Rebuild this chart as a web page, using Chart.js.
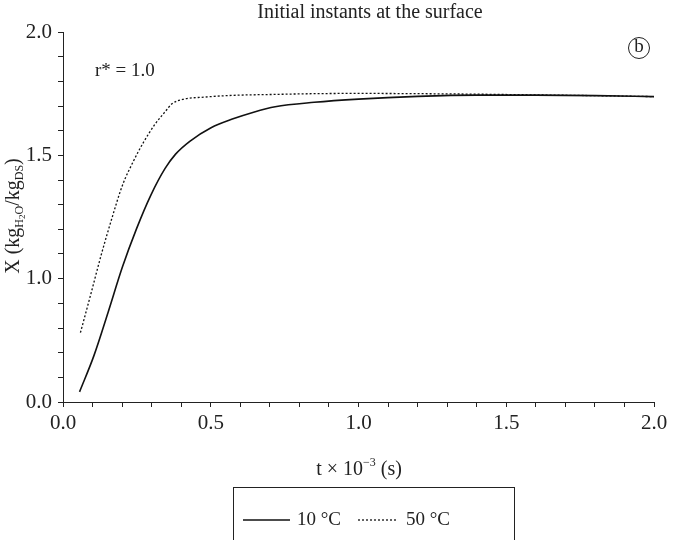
<!DOCTYPE html>
<html>
<head>
<meta charset="utf-8">
<script src="https://cdn.jsdelivr.net/npm/chart.js@4.4.1/dist/chart.umd.min.js"></script>
<style>
  html, body { margin: 0; padding: 0; background: #fff; }
  #wrap { width: 683px; height: 540px; }
</style>
</head>
<body>
<div id="wrap"><canvas id="myChart" width="683" height="540"></canvas></div>
<script>
// time t x 10^-3 (s)
const time10 = [0.056, 0.105, 0.153, 0.201, 0.249, 0.297, 0.345, 0.381, 0.429, 0.501, 0.573, 0.645, 0.718, 0.85, 1.0, 1.2, 1.4, 1.6, 1.8, 2.0];
const moist10 = [0.541, 0.689, 0.865, 1.047, 1.203, 1.338, 1.446, 1.505, 1.557, 1.612, 1.647, 1.675, 1.697, 1.715, 1.728, 1.739, 1.744, 1.744, 1.742, 1.738];

const time50 = [0.059, 0.093, 0.129, 0.165, 0.201, 0.237, 0.273, 0.309, 0.345, 0.369, 0.405, 0.477, 0.573, 0.718, 0.85, 1.0, 1.2, 1.4, 1.6, 1.8, 2.0];
const moist50 = [0.781, 0.932, 1.095, 1.243, 1.378, 1.473, 1.554, 1.622, 1.676, 1.709, 1.727, 1.736, 1.743, 1.747, 1.750, 1.751, 1.750, 1.748, 1.745, 1.742, 1.738];

const seriesLabels = ['10 °C', '50 °C'];
const xTickLabels = ['0.0', '0.5', '1.0', '1.5', '2.0'];
const yTickLabels = ['0.0', '1.0', '1.5', '2.0']; // bottom of the axis is printed as 0.0

const serif = '"Liberation Serif", "DejaVu Serif", serif';

function pts(xs, ys) {
  return xs.map((x, i) => ({ x: x, y: ys[i] }));
}

// draws runs of text with different sizes / offsets, centred on cx
function drawRuns(ctx, parts, cx, cy) {
  let total = 0;
  parts.forEach(p => { ctx.font = p[1] + 'px ' + serif; total += ctx.measureText(p[0]).width; });
  let px = cx - total / 2;
  parts.forEach(p => {
    ctx.font = p[1] + 'px ' + serif;
    ctx.fillText(p[0], px, cy + p[2]);
    px += ctx.measureText(p[0]).width;
  });
}

// extra text, legend box and y title with subscripts
const extras = {
  id: 'extras',
  afterDraw(chart) {
    const ctx = chart.ctx;
    ctx.save();
    ctx.fillStyle = '#222';
    ctx.textBaseline = 'middle';

    // title
    ctx.font = '20px ' + serif;
    ctx.textAlign = 'center';
    ctx.fillText('Initial instants at the surface', 370, 13);

    // r* = 1.0
    ctx.textAlign = 'left';
    ctx.font = '19px ' + serif;
    ctx.fillText('r* = 1.0', 95, 71);

    // (b)
    ctx.beginPath();
    ctx.arc(639, 48, 10.5, 0, Math.PI * 2);
    ctx.lineWidth = 1;
    ctx.strokeStyle = '#222';
    ctx.stroke();
    ctx.textAlign = 'center';
    ctx.font = '19px ' + serif;
    ctx.fillText('b', 639, 47);

    // x title
    ctx.textAlign = 'left';
    drawRuns(ctx, [['t × 10', 20, 0], ['−3', 12, -7], [' (s)', 20, 0]], 359, 470);

    // y title, rotated
    ctx.save();
    ctx.translate(14, 216);
    ctx.rotate(-Math.PI / 2);
    drawRuns(ctx, [['X (kg', 20, 0], ['H', 12, 6], ['2', 9, 9], ['O', 12, 6], ['/kg', 20, 0], ['DS', 12, 6], [')', 20, 0]], 0, 0);
    ctx.restore();

    // legend box
    ctx.strokeStyle = '#222';
    ctx.lineWidth = 1;
    ctx.strokeRect(233.5, 487.5, 281, 70);
    const ly = 520;
    const items = [[243, 290, 297], [358, 398, 406]];
    chart.data.datasets.forEach((ds, i) => {
      const it = items[i];
      ctx.beginPath();
      ctx.setLineDash(ds.borderDash || []);
      ctx.lineWidth = ds.borderWidth;
      ctx.strokeStyle = ds.borderColor;
      ctx.moveTo(it[0], ly);
      ctx.lineTo(it[1], ly);
      ctx.stroke();
      ctx.setLineDash([]);
      ctx.font = '19px ' + serif;
      ctx.textAlign = 'left';
      ctx.fillStyle = '#222';
      ctx.fillText(ds.label, it[2], ly);
    });
    ctx.restore();
  }
};

new Chart('myChart', {
  type: 'line',
  data: {
    datasets: [{
      label: seriesLabels[0],
      data: pts(time10, moist10),
      borderColor: '#111',
      borderWidth: 1.6,
      pointRadius: 0,
      cubicInterpolationMode: 'monotone',
      fill: false
    }, {
      label: seriesLabels[1],
      data: pts(time50, moist50),
      borderColor: '#111',
      borderWidth: 1.3,
      borderDash: [2, 2],
      pointRadius: 0,
      cubicInterpolationMode: 'monotone',
      fill: false
    }]
  },
  options: {
    responsive: false,
    animation: false,
    layout: { padding: { top: 32, right: 29, left: 0, bottom: 0 } },
    plugins: {
      legend: { display: false },
      title: { display: false },
      tooltip: { enabled: false }
    },
    scales: {
      x: {
        type: 'linear',
        min: 0,
        max: 2.0,
        afterFit(scale) { scale.height = 138; },
        border: { color: '#222', width: 1 },
        grid: { drawOnChartArea: false, tickLength: 5, color: '#222' },
        ticks: {
          stepSize: 0.1,
          autoSkip: false,
          maxTicksLimit: 40,
          maxRotation: 0,
          padding: 4,
          color: '#222',
          font: { family: serif, size: 21 },
          callback(v) {
            const k = Math.round(v * 10);
            return k % 5 === 0 ? xTickLabels[k / 5] : '';
          }
        }
      },
      y: {
        min: 0.5,
        max: 2.0,
        afterFit(scale) { scale.width = 63; },
        border: { color: '#222', width: 1 },
        grid: { drawOnChartArea: false, tickLength: 5, color: '#222' },
        ticks: {
          stepSize: 0.1,
          autoSkip: false,
          maxTicksLimit: 40,
          padding: 6,
          color: '#222',
          font: { family: serif, size: 21 },
          callback(v) {
            const k = Math.round(v * 10);
            if (k % 5 !== 0) return '';
            return yTickLabels[k === 5 ? 0 : k / 5 - 1];
          }
        }
      }
    }
  },
  plugins: [extras]
});
</script>
</body>
</html>
